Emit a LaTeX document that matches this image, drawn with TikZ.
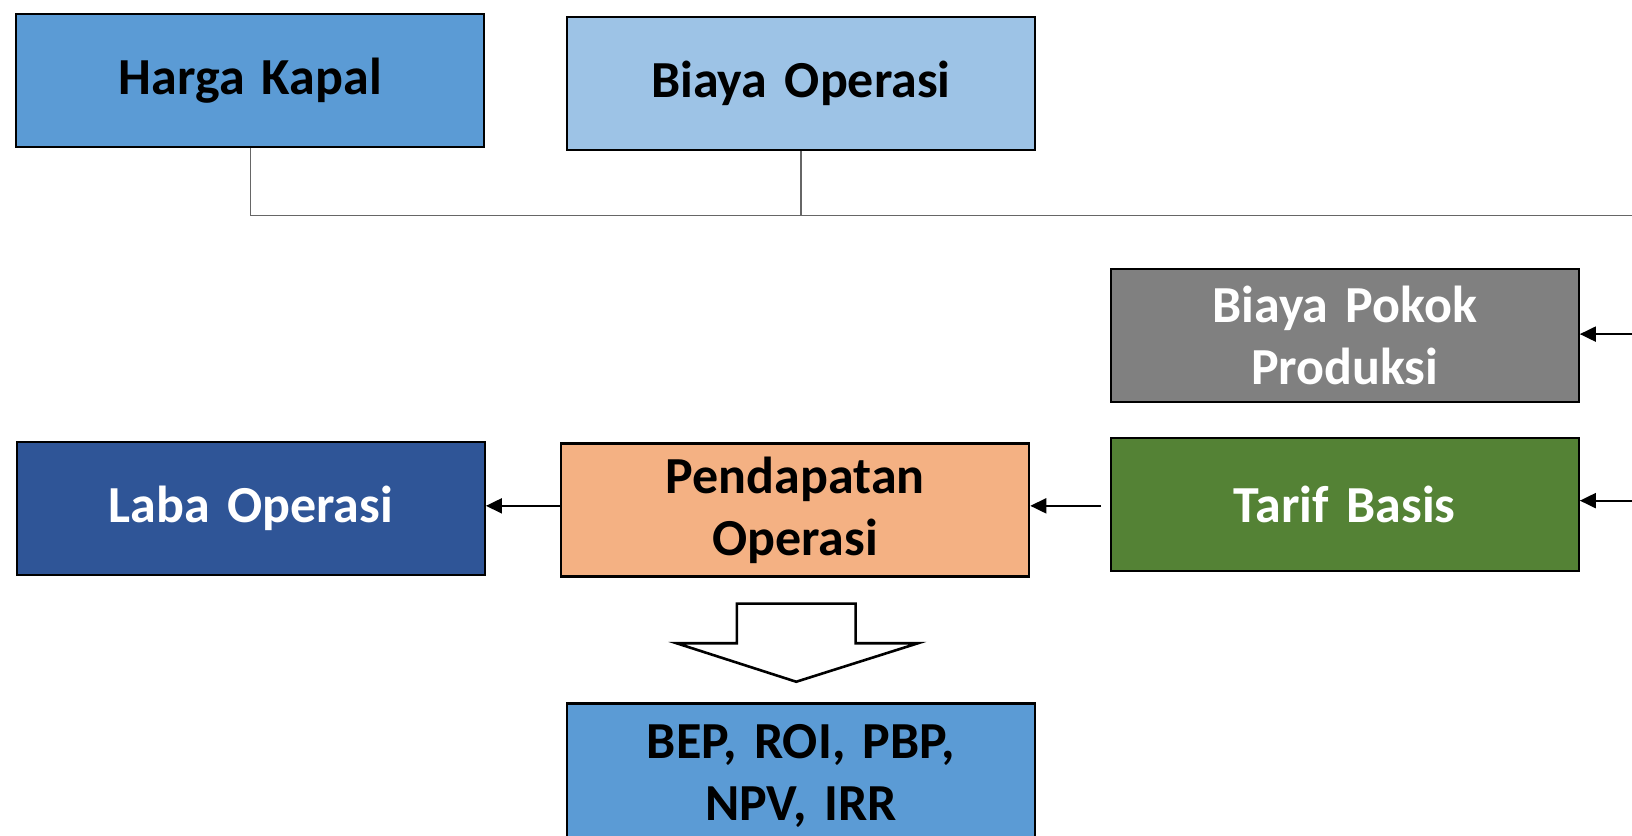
\documentclass[tikz,border=0pt]{standalone}
\usepackage{fontspec}
\setmainfont{Carlito}
\usetikzlibrary{arrows.meta}
\definecolor{hkblue}{HTML}{5B9BD5}
\definecolor{boblue}{HTML}{9DC3E6}
\definecolor{bppgray}{HTML}{808080}
\definecolor{tbgreen}{HTML}{548235}
\definecolor{poorange}{HTML}{F4B183}
\definecolor{lodark}{HTML}{2F5597}
\tikzstyle{box} = [rectangle, minimum width=234pt, minimum height=66.5pt, text width=226pt, align=center, draw=black, line width=1.1pt, font=\fontsize{26}{31}\selectfont\bfseries]
\tikzstyle{link} = [gray!80!black, line width=0.6pt]
\tikzstyle{arrow} = [line width=1pt,-{Triangle[length=8pt,width=7.5pt]}]

\begin{document}
\begin{tikzpicture}[x=0.5204pt, y=-0.5204pt]
	\useasboundingbox (0,0) rectangle (1568,802.3);
	
	\node (harga) [box, fill=hkblue] at (240.5,77.5) {Harga Kapal};
	\node (biaya) [box, fill=boblue] at (769.5,80) {Biaya Operasi};
	\node (pokok) [box, fill=bppgray, text=white] at (1292,322) {Biaya Pokok\\Produksi};
	\node (tarif) [box, fill=tbgreen, text=white] at (1292,484.5) {Tarif Basis};
	\node (pendapatan) [box, fill=poorange] at (764,490) {Pendapatan\\Operasi};
	\node (laba) [box, fill=lodark, text=white] at (241,488.5) {Laba Operasi};
	\node (hasil) [box, fill=hkblue, minimum height=73pt] at (769.5,746) {BEP, ROI, PBP,\\NPV, IRR};
	
	\coordinate (lineend) at (1575,207);
	\coordinate (inpokok) at (1575,321);
	\coordinate (intarif) at (1575,481);
	\coordinate (outtarif) at (1058,486);
	
	\draw [link] (harga.south) |- (lineend);
	\draw [link] (biaya.south) -- (biaya.south |- lineend);
	\draw [arrow] (inpokok) -- (inpokok -| pokok.east);
	\draw [arrow] (intarif) -- (intarif -| tarif.east);
	\draw [arrow] (outtarif) -- (outtarif -| pendapatan.east);
	\draw [arrow] (pendapatan.west |- outtarif) -- (laba.east |- outtarif);
	
	% block arrow
	\draw [line width=1.3pt, fill=white] (708,580) -- (822,580) -- (822,618) -- (882,618) -- (765,655) -- (650,618) -- (708,618) -- cycle;
	
\end{tikzpicture}
\end{document}
